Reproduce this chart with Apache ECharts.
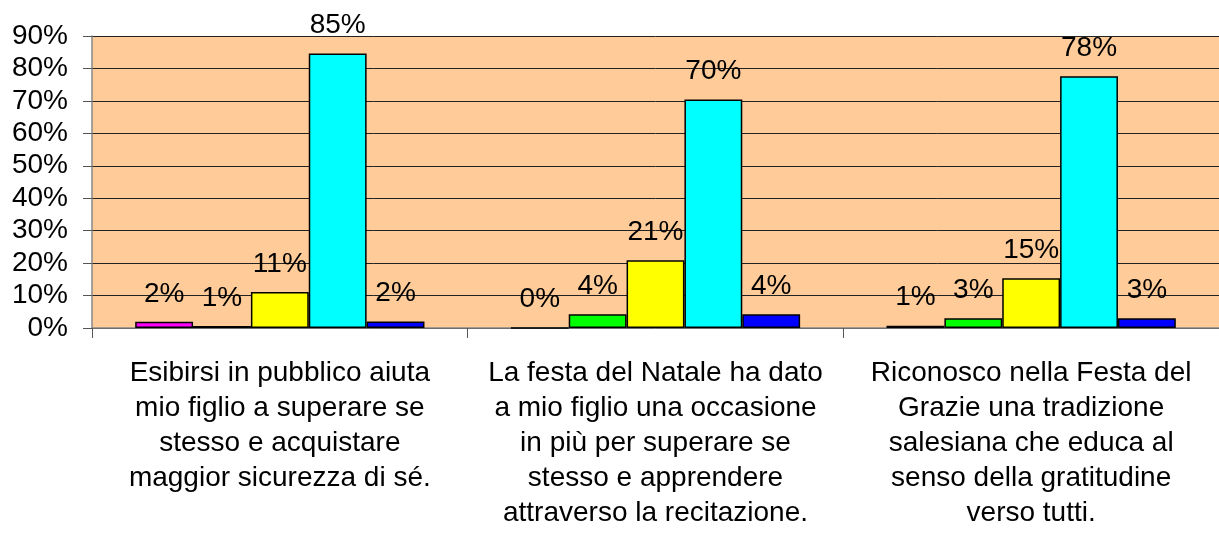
<!DOCTYPE html>
<html>
<head>
<meta charset="utf-8">
<script src="https://cdn.jsdelivr.net/npm/echarts@6/dist/echarts.min.js"></script>
<style>
  html, body { margin: 0; padding: 0; background: #fff; }
  #chart { width: 1219px; height: 538px; }
</style>
</head>
<body>
<div id="chart"></div>
<script>
const categories = [
  'Esibirsi in pubblico aiuta\nmio figlio a superare se\nstesso e acquistare\nmaggior sicurezza di sé.',
  'La festa del Natale ha dato\na mio figlio una occasione\nin più per superare se\nstesso e apprendere\nattraverso la recitazione.',
  'Riconosco nella Festa del\nGrazie una tradizione\nsalesiana che educa al\nsenso della gratitudine\nverso tutti.'
]
// percent values, one array per colour
const magenta = [1.9, 0, 0.7]
const green = [0.6, 4.2, 3.0]
const yellow = [11.1, 20.9, 15.3]
const cyan = [84.6, 70.4, 77.6]
const blue = [2.0, 4.2, 3.0]
const yTicks = [0, 10, 20, 30, 40, 50, 60, 70, 80, 90]

const font = '"Liberation Sans", Arial, sans-serif'
const colors = ['#FF00FF', '#00FF00', '#FFFF00', '#00FFFF', '#0000FF']
const seriesData = [magenta, green, yellow, cyan, blue]

var myChart = echarts.init(document.getElementById('chart'))
myChart.setOption({
  animation: false,
  grid: {
    left: 92, top: 36, right: -7, bottom: 210,
    show: true, backgroundColor: '#FFCC99', borderWidth: 0
  },
  xAxis: {
    type: 'category',
    data: categories,
    axisLine: { lineStyle: { color: '#888', width: 1.5 } },
    axisTick: { show: true, length: 10, lineStyle: { color: '#555' } },
    axisLabel: {
      color: '#000', fontFamily: font, fontSize: 28, lineHeight: 35,
      margin: 28, interval: 0, align: 'center'
    }
  },
  yAxis: {
    type: 'value',
    min: yTicks[0], max: yTicks[yTicks.length - 1], interval: 10,
    axisLine: { show: true, lineStyle: { color: '#888', width: 1.5 } },
    axisTick: { show: true, inside: false, length: 9, lineStyle: { color: '#555' } },
    axisLabel: {
      color: '#000', fontFamily: font, fontSize: 28, margin: 24,
      formatter: v => v + '%'
    },
    splitLine: {
      lineStyle: { color: '#222', width: 1 }
    }
  },
  series: seriesData.map((d, i) => ({
    type: 'bar',
    data: d,
    barGap: '0%',
    barCategoryGap: '23%',
    itemStyle: { color: colors[i], borderColor: '#000', borderWidth: 1.5 },
    label: {
      show: true, position: 'top', distance: 14,
      color: '#000', fontFamily: font, fontSize: 28,
      formatter: p => Math.round(p.value) + '%'
    }
  }))
})
window.onresize = myChart.resize
</script>
</body>
</html>
